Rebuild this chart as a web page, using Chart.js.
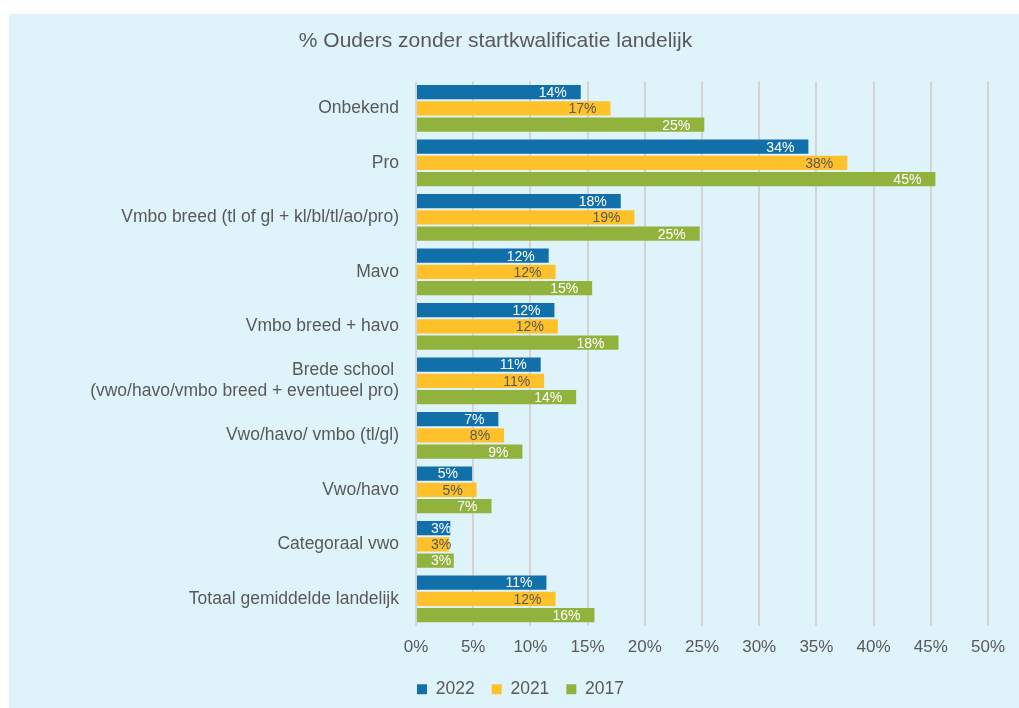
<!DOCTYPE html>
<html>
<head>
<meta charset="utf-8">
<script src="https://cdn.jsdelivr.net/npm/chart.js@4.4.1/dist/chart.umd.min.js"></script>
<style>
  html, body { margin: 0; padding: 0; background: #fff; }
  #panel { position: absolute; left: 9px; top: 14px; right: 0; bottom: 0; background: #dff3fa; }
  #wrap { position: absolute; left: 0; top: 0; width: 1019px; height: 708px; }
</style>
</head>
<body>
<div id="panel"></div>
<div id="wrap"><canvas id="myChart" width="1019" height="708"></canvas></div>
<script>
const categories = [
  'Onbekend',
  'Pro',
  'Vmbo breed (tl of gl + kl/bl/tl/ao/pro)',
  'Mavo',
  'Vmbo breed + havo',
  ['Brede school ', '(vwo/havo/vmbo breed + eventueel pro)'],
  'Vwo/havo/ vmbo (tl/gl)',
  'Vwo/havo',
  'Categoraal vwo',
  'Totaal gemiddelde landelijk'
];
const seriesNames = ['2022', '2021', '2017'];
const values2022 = [14.4, 34.3, 17.9, 11.6, 12.1, 10.9, 7.2, 4.9, 3.0, 11.4];
const values2021 = [17.0, 37.7, 19.1, 12.2, 12.4, 11.2, 7.7, 5.3, 2.9, 12.2];
const values2017 = [25.2, 45.4, 24.8, 15.4, 17.7, 14.0, 9.3, 6.6, 3.3, 15.6];

const FONT = '"Liberation Sans", Arial, sans-serif';
const GREY = '#595959';

// value labels sit just inside the end of each bar
const barLabels = {
  id: 'barLabels',
  afterDatasetsDraw(chart) {
    const ctx = chart.ctx;
    ctx.save();
    ctx.font = '14px ' + FONT;
    ctx.textAlign = 'left';
    ctx.textBaseline = 'middle';
    chart.data.datasets.forEach((ds, i) => {
      const meta = chart.getDatasetMeta(i);
      meta.data.forEach((bar, j) => {
        const p = bar.getProps(['x', 'y', 'base'], true);
        const txt = Math.round(ds.data[j]) + '%';
        const w = ctx.measureText(txt).width;
        const left = Math.max(p.x - 14 - w, p.base + 14);
        ctx.fillStyle = ds.labelColor;
        ctx.fillText(txt, left, p.y + 1);
      });
    });
    ctx.restore();
  }
};

// title sits a bit left of the legend centre
const titleShift = {
  id: 'titleShift',
  afterLayout(chart) {
    if (chart.titleBlock) {
      chart.titleBlock.left -= 25;
      chart.titleBlock.right -= 25;
    }
  }
};

const ctx = document.getElementById('myChart').getContext('2d');
const myChart = new Chart(ctx, {
  type: 'bar',
  data: {
    labels: categories,
    datasets: [
      { label: seriesNames[0], data: values2022, backgroundColor: '#1170aa', labelColor: '#ffffff' },
      { label: seriesNames[1], data: values2021, backgroundColor: '#fec12a', labelColor: GREY },
      { label: seriesNames[2], data: values2017, backgroundColor: '#92b23e', labelColor: '#ffffff' }
    ]
  },
  options: {
    indexAxis: 'y',
    responsive: false,
    animation: false,
    layout: { padding: { left: 53, right: 31, top: 0, bottom: 0 } },
    datasets: {
      bar: {
        categoryPercentage: 0.895,
        barPercentage: 0.88,
        borderWidth: 0
      }
    },
    scales: {
      x: {
        min: 0,
        max: 50,
        ticks: {
          stepSize: 5,
          padding: 11,
          color: GREY,
          font: { family: FONT, size: 17 },
          callback: (v) => v + '%'
        },
        grid: { color: '#d4d4d4', lineWidth: 2, drawTicks: false },
        border: { display: false },
        afterFit: (scale) => { scale.height -= 5; }
      },
      y: {
        ticks: {
          padding: 17,
          color: GREY,
          font: { family: FONT, size: 17.5 }
        },
        grid: { display: false, drawTicks: false },
        border: { display: false },
        afterFit: (scale) => { scale.width = 363; }
      }
    },
    plugins: {
      title: {
        display: true,
        text: '% Ouders zonder startkwalificatie landelijk',
        color: GREY,
        font: { family: FONT, size: 21, weight: 'normal' },
        padding: { top: 29, bottom: 27 }
      },
      legend: {
        position: 'bottom',
        labels: {
          boxWidth: 10,
          boxHeight: 10,
          padding: 17,
          color: GREY,
          font: { family: FONT, size: 17.5 }
        }
      },
      tooltip: { enabled: false }
    }
  },
  plugins: [barLabels, titleShift]
});
</script>
</body>
</html>
